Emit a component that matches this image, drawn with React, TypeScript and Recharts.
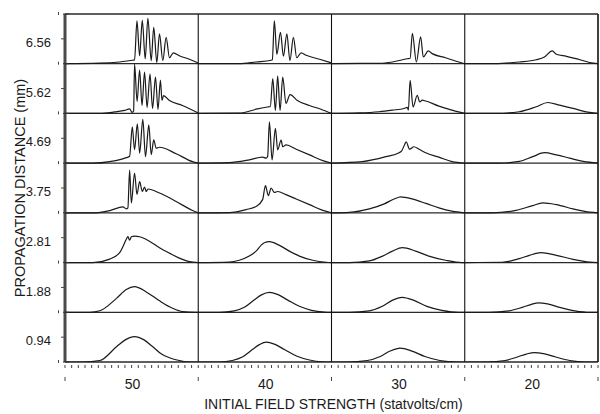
import React from 'react';
import { LineChart, Line, XAxis, YAxis, ReferenceLine } from 'recharts';

// Column categories (initial field strength, statvolts/cm) and row categories (propagation distance, mm)
const fieldStrengths = ['50', '40', '30', '20'];
const distances = ['0.94', '1.88', '2.81', '3.75', '4.69', '5.62', '6.56'];

// Pulse shapes: [time within window (0-100), field (statvolts/cm)]
// ---- 50 statvolts/cm ----
const pulse656_50 = [[0,0],[26,1],[41,3.5],[50.7,7],[52.2,7.5],[54,86],[56,16],[58,87],[60.2,10],[62.2,91],[64.7,6],[66.6,73],[68.9,2],[70.9,60],[73.4,6],[75.9,53],[78.4,12],[81.3,22],[85.8,16],[93.3,9],[100,1.5]];
const pulse562_50 = [[0,0],[26,0],[37.3,3],[44.8,6],[48.5,9],[50.4,2],[51.5,5],[52.2,99],[54.1,24],[56,87],[57.8,16],[59.7,83],[61.6,12],[63.8,79],[65.7,10],[67.9,73],[69.8,8],[71.6,67],[72.8,26],[73.9,36],[78.4,26],[88.1,16],[100,1]];
const pulse469_50 = [[0,0],[20.9,0],[33.6,3],[46,11],[48.5,14],[50.5,73],[52.2,27],[54.3,79],[56,20],[58.4,88],[60.4,13],[62.9,77],[64.7,17],[66.6,47],[68.4,30],[70.9,32],[83.4,19],[95.7,3],[100,0]];
const pulse375_50 = [[0,0],[20.9,0],[33.6,4.6],[43.5,12],[46,8],[47.2,10],[48.5,86],[49.8,20],[52.2,80],[54,37],[56,63],[58,43],[59.7,52],[61,43],[62.2,48],[70.9,40],[83.4,23],[95.7,4.6],[100,0]];
const pulse281_50 = [[0,0],[20.9,0],[33.6,7],[41,20],[44.8,40],[46,47],[47.2,52],[48.5,45],[49.8,52],[52.2,53],[56,52],[63.4,43],[70.9,30],[78.4,19],[85.8,9],[93.3,2],[100,0]];
const pulse188_50 = [[0,0],[18.7,0],[26.1,3],[38.6,28],[46,46],[52.2,51.5],[61,41],[70.9,23],[80.8,8],[88.3,1.5],[100,0]];
const pulse094_50 = [[0,0],[13.4,0],[26.1,3],[38.8,31],[45.5,45],[52.2,51],[59,45],[65.7,31],[72.4,16],[78.4,8.6],[85.8,3],[91,0.5],[100,0]];

// ---- 40 statvolts/cm ----
const pulse656_40 = [[0,0],[30.8,0],[43.4,3.5],[54.7,7],[55.6,8],[57.1,86],[59,19],[61.7,63],[63.9,15],[66.5,60],[68.8,6],[71.4,53],[73.9,12],[77.2,22],[81,17],[91,9],[100,1.5]];
const pulse562_40 = [[0,0],[30.8,0.5],[44.4,9],[51.9,13],[54.1,14],[55.9,70],[57.9,6],[59.6,75],[61.4,6],[63.4,73],[65.8,20],[68.9,38],[74.4,26],[83.5,16],[92.5,8],[100,0]];
const pulse469_40 = [[0,0],[23.3,1],[38.3,6.6],[48.3,12],[50.9,10],[52.1,14],[53.4,83],[55.4,6.6],[57.9,70],[59.6,26.6],[62.2,46.6],[63.4,33],[65.9,36.6],[73.5,28],[83.5,16.6],[93.5,5],[98.5,1],[100,0]];
const pulse375_40 = [[0,0],[23.3,0.6],[35.9,6.6],[43.4,13],[48.3,26.6],[50.4,54.6],[52.6,34.6],[54.7,50],[57.1,41],[59.6,43],[65.9,36.6],[73.5,28],[83.5,16.6],[93.5,5],[100,0]];
const pulse281_40 = [[0,0],[23.3,1],[30.8,4.6],[38.3,13],[43.4,23],[47.1,34.6],[49.6,40],[53.4,42],[60.9,34.6],[68.4,23],[75.9,13],[85.9,4.6],[96,0.6],[100,0]];
const pulse188_40 = [[0,0],[15.8,0],[27.1,3],[34.6,10],[42.1,25],[47.4,35],[53.4,40],[59.4,36],[66.9,25],[75.9,12],[85,4],[94.7,0.5],[100,0]];
const pulse094_40 = [[0,0],[15.8,0],[25.6,3],[33.1,10],[40.6,25],[45.9,35],[51.1,40],[57.1,36],[64.7,25],[73.7,12],[83.5,4],[92.5,0.5],[100,0]];

// ---- 30 statvolts/cm ----
const pulse656_30 = [[0,0],[20.9,0.5],[35.8,0.7],[45.7,3.4],[56.9,10],[59,11],[60.7,61],[63.7,3.4],[66.9,54],[68.9,13.5],[72.6,25.7],[75.6,20.3],[85.6,12],[95.5,3.4],[100,0]];
const pulse562_30 = [[0,0],[20.9,1],[35.8,3.4],[45.7,6.6],[54.5,10],[56.9,12],[57.7,6.6],[59,66.6],[61.2,13],[64.4,36.6],[66.2,23],[68.1,26.6],[70.7,25],[80.6,14.6],[90.5,6.6],[100,0]];
const pulse469_30 = [[0,0],[23.1,3],[40.8,13],[50.7,21],[52.5,24],[55,38],[56,43],[58.6,28],[61.9,33],[65.7,28],[70.7,21],[80.6,12],[90.5,3],[100,0]];
const pulse375_30 = [[0,0],[13.4,1],[28.4,8],[39.6,18],[47,28],[52.2,32],[55.2,31],[60.4,28],[70.9,19],[80.6,10],[90.3,3.4],[100,0]];
const pulse281_30 = [[0,0],[13.4,0],[28.4,3.4],[38.3,13],[45.7,23],[53.2,30],[63.2,23],[73.1,13],[85.6,4.6],[97.9,0],[100,0]];
const pulse188_30 = [[0,0],[13.4,0],[28.4,3],[38.1,12],[45.5,24],[53,30],[61.9,24],[71.6,12],[82.8,4],[95.5,0],[100,0]];
const pulse094_30 = [[0,0],[11.9,0],[26.9,3],[36.6,11],[44,22],[51.5,28],[60.4,22],[70.1,11],[81.3,3],[94,0],[100,0]];

// ---- 20 statvolts/cm ----
const pulse656_20 = [[0,0],[23.3,0],[40.9,3.4],[53.6,8],[59.8,13.5],[65.7,25.7],[68.7,19],[76.3,14.9],[86.4,8],[96.4,1],[100,0]];
const pulse562_20 = [[0,0],[23.3,0],[40.9,3.4],[53.6,13.4],[62.3,22],[71.2,16.6],[81.3,10],[93.9,2],[100,0]];
const pulse469_20 = [[0,0],[25.8,0],[40.9,3.4],[51,13],[59.8,21],[68.7,16.6],[78.8,10],[88.9,3.4],[100,0]];
const pulse375_20 = [[0,0],[20.5,0],[38.4,5],[51,14.6],[58.6,20],[68.7,16.6],[81.3,8],[93.9,1.4],[100,0]];
const pulse281_20 = [[0,0],[28,0.6],[40.9,8],[48.5,14.6],[57.3,20],[68.7,14.6],[81.3,6.6],[93.9,1],[100,0]];
const pulse188_20 = [[0,0],[18.2,0],[33.3,3],[43.2,10],[50,16],[55.3,19],[62.1,17],[71.2,10],[82.6,3],[93.9,0],[100,0]];
const pulse094_20 = [[0,0],[16.7,0],[30.3,3],[39.4,10],[46.2,16],[52.3,19],[59.1,17],[68.2,10],[78.8,3],[90.2,0],[100,0]];

// rows from bottom (0.94 mm) to top (6.56 mm); columns 50, 40, 30, 20
const panels = [
  [pulse094_50, pulse094_40, pulse094_30, pulse094_20],
  [pulse188_50, pulse188_40, pulse188_30, pulse188_20],
  [pulse281_50, pulse281_40, pulse281_30, pulse281_20],
  [pulse375_50, pulse375_40, pulse375_30, pulse375_20],
  [pulse469_50, pulse469_40, pulse469_30, pulse469_20],
  [pulse562_50, pulse562_40, pulse562_30, pulse562_20],
  [pulse656_50, pulse656_40, pulse656_30, pulse656_20],
];

// each window is 100 time units wide, each row 100 statvolts/cm tall
const WIN = 100;
const ROW = 100;
const series = panels.flatMap((row, i) =>
  row.map((pts, j) => ({
    key: `p-${i}-${j}`,
    data: pts.map(([t, a]) => ({ x: j * WIN + t, y: i * ROW + a })),
  }))
);

const nCols = fieldStrengths.length;
const nRows = distances.length;
const xTicks: number[] = [];
for (let v = 0; v <= nCols * WIN; v += 5) xTicks.push(v);
const yTicks: number[] = [];
for (let i = 0; i <= nRows; i++) yTicks.push(i * ROW);
for (let i = 0; i < nRows; i++) { yTicks.push(i * ROW + 50); yTicks.push(i * ROW + 43); }
yTicks.sort((a, b) => a - b);

const FONT = '"Liberation Sans", Arial, Helvetica, sans-serif';
const INK = '#1a1a1a';

const XTick = (props: any) => {
  const { x, y, payload } = props;
  const v = payload.value as number;
  const r = v % WIN;
  return (
    <g>
      <line x1={x} x2={x} y1={y + 3} y2={y + 6} stroke="#444" strokeWidth={1} />
      {r === 0 && <line x1={x} x2={x} y1={y + 15} y2={y + 19} stroke="#444" strokeWidth={1} />}
      {r === 50 && (
        <text x={x + 1} y={y + 26.5} textAnchor="middle" fontSize={14} fontFamily={FONT} fill={INK}>
          {fieldStrengths[Math.floor(v / WIN)]}
        </text>
      )}
    </g>
  );
};

const YTick = (props: any) => {
  const { x, y, payload } = props;
  const v = payload.value as number;
  const r = v % ROW;
  if (r === 0) {
    return (
      <g>
        <line x1={x - 6.5} x2={x - 6.5} y1={y - 2} y2={y + 1} stroke="#444" strokeWidth={1} />
        <line x1={x - 2} x2={x + 4} y1={y} y2={y} stroke="#333" strokeWidth={1} />
      </g>
    );
  }
  if (r === 50) {
    return <line x1={x - 4} x2={x} y1={y} y2={y} stroke="#444" strokeWidth={1} />;
  }
  return (
    <text x={x - 14} y={y} dy="0.36em" textAnchor="end" fontSize={13} fontFamily={FONT} fill={INK}>
      {distances[Math.floor(v / ROW)]}
    </text>
  );
};

const XTitle = (props: any) => {
  const vb = props.viewBox || { x: 65, y: 362, width: 533, height: 52 };
  return (
    <text x={vb.x + vb.width / 2 + 2} y={vb.y + 47} textAnchor="middle" fontSize={14} fontFamily={FONT} fill={INK}>
      INITIAL FIELD STRENGTH (statvolts/cm)
    </text>
  );
};

const YTitle = (props: any) => {
  const vb = props.viewBox || { x: 0, y: 14, width: 65, height: 348 };
  const cx = vb.x + 20;
  const cy = vb.y + vb.height / 2;
  return (
    <text x={cx} y={cy} dy="0.36em" transform={`rotate(-90 ${cx} ${cy})`} textAnchor="middle" fontSize={14.5} fontFamily={FONT} fill={INK}>
      PROPAGATION DISTANCE (mm)
    </text>
  );
};

export default function App() {
  return (
    <div style={{ position: 'absolute', left: 0, top: 0, width: 600, height: 414, background: '#fff' }}>
      <LineChart width={600} height={414} margin={{ top: 14, right: 2, bottom: 0, left: 0 }}>
        <XAxis
          type="number"
          dataKey="x"
          domain={[0, nCols * WIN]}
          ticks={xTicks}
          interval={0}
          tickSize={0}
          tickMargin={0}
          axisLine={false}
          tickLine={false}
          tick={(p: any) => <XTick {...p} />}
          height={52}
          allowDataOverflow
          label={(p: any) => <XTitle {...p} />}
        />
        <YAxis
          type="number"
          dataKey="y"
          domain={[0, nRows * ROW]}
          ticks={yTicks}
          interval={0}
          tickSize={0}
          tickMargin={0}
          axisLine={false}
          tickLine={false}
          tick={(p: any) => <YTick {...p} />}
          width={65}
          allowDataOverflow
          label={(p: any) => <YTitle {...p} />}
        />
        {Array.from({ length: nRows + 1 }, (_, i) => (
          <ReferenceLine key={`h${i}`} y={i * ROW} stroke="#2a2a2a" strokeWidth={1.3} />
        ))}
        {Array.from({ length: nCols }, (_, j) => (
          <ReferenceLine key={`v${j}`} x={(j + 1) * WIN} stroke="#111" strokeWidth={j === nCols - 1 ? 1.6 : 1.1} />
        ))}
        <ReferenceLine x={0} stroke="#4a4a4a" strokeWidth={3} />
        {series.map((s) => (
          <Line
            key={s.key}
            data={s.data}
            dataKey="y"
            type="monotone"
            stroke={INK}
            strokeWidth={1.2}
            dot={false}
            activeDot={false}
            isAnimationActive={false}
          />
        ))}
      </LineChart>
    </div>
  );
}
